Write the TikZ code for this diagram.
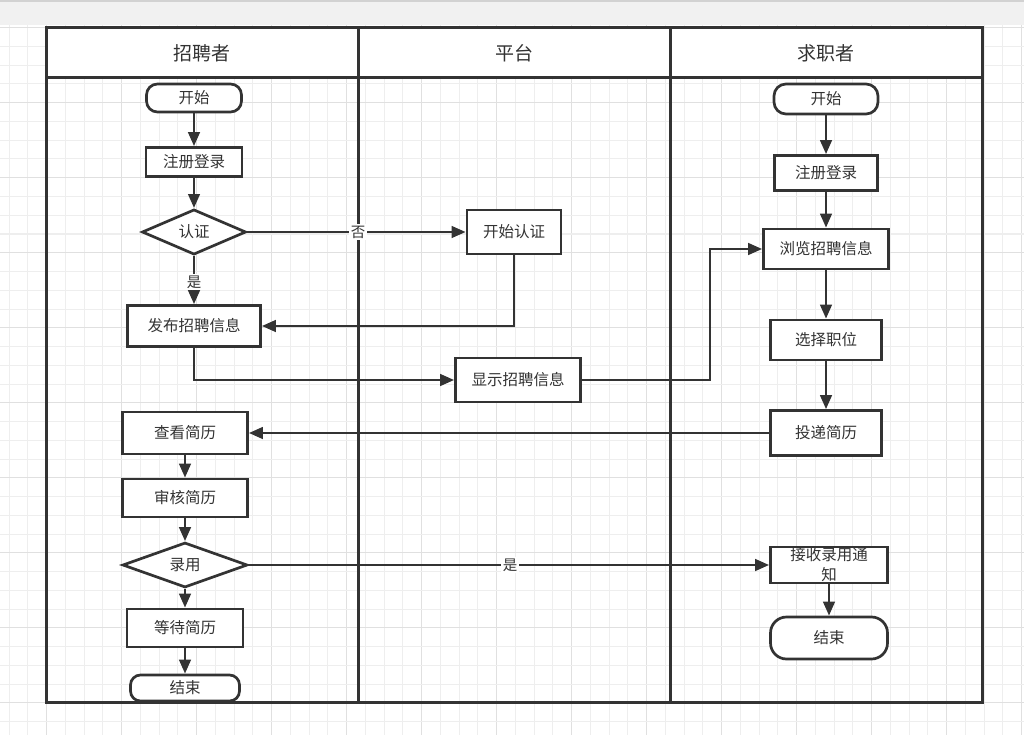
\documentclass[tikz,border=0pt]{standalone}
\usepackage{fontspec}
\setmainfont{Noto Sans CJK SC}
\usetikzlibrary{shapes.geometric,arrows.meta}
\definecolor{ink}{HTML}{333333}
\definecolor{gridminor}{HTML}{EEEEEE}
\definecolor{gridmajor}{HTML}{E0E0E0}
\definecolor{topbar}{HTML}{F1F1F1}
\definecolor{topline}{HTML}{D2D2D2}
\tikzset{
  every node/.style={text=ink},
  boxnode/.style={draw=ink, line width=2.7pt, fill=white, inner sep=0pt,
    font=\fontsize{15.5pt}{20pt}\selectfont},
  procbox/.style={boxnode, rectangle},
  termbox/.style={boxnode, rectangle, rounded corners=#1},
  decbox/.style={boxnode, diamond},
  lanehead/.style={font=\fontsize{19pt}{22pt}\selectfont},
  flow/.style={draw=ink, line width=2.7pt, -{Triangle[length=14pt,width=11.5pt]}},
  flowlabel/.style={fill=white, inner sep=1.5pt, font=\fontsize{14.5pt}{16pt}\selectfont},
  laneline/.style={draw=ink, line width=3pt},
}
\begin{document}
\begin{tikzpicture}[x=1pt,y=-1pt]
\useasboundingbox (0,0) rectangle (1024,735);
\fill[white] (0,0) rectangle (1024,735);
% grid
\foreach \k in {0,...,54}{
  \pgfmathsetmacro{\gx}{9.2+18.75*\k}
  \pgfmathtruncatemacro{\m}{mod(\k,4)}
  \ifnum\m=2
    \draw[gridmajor, line width=1pt] (\gx,0) -- (\gx,735);
  \else
    \draw[gridminor, line width=1pt] (\gx,0) -- (\gx,735);
  \fi
}
\foreach \k in {0,...,39}{
  \pgfmathsetmacro{\gy}{9+18.75*\k}
  \pgfmathtruncatemacro{\m}{mod(\k,4)}
  \ifnum\m=1
    \draw[gridmajor, line width=1pt] (0,\gy) -- (1024,\gy);
  \else
    \draw[gridminor, line width=1pt] (0,\gy) -- (1024,\gy);
  \fi
}
% top bar
\fill[topbar] (0,0) rectangle (1024,25);
\fill[topline] (0,0) rectangle (1024,2);
% pool
\fill[white] (46,28) rectangle (982,78);
\draw[laneline] (46,28) rectangle (982,702);
\draw[laneline] (46,78) -- (982,78);
\draw[laneline] (358,28) -- (358,702);
\draw[laneline] (670,28) -- (670,702);
\node[lanehead] (h1) at (202,53) {招聘者};
\node[lanehead] (h2) at (514,53) {平台};
\node[lanehead] (h3) at (826,53) {求职者};
% recruiter lane
\node[termbox=11pt, minimum width=95pt, minimum height=28pt] (rs) at (194,98) {开始};
\node[procbox, minimum width=96pt, minimum height=29pt] (rr) at (194,162) {注册登录};
\node[decbox, minimum width=104pt, minimum height=44pt] (rv) at (194,232) {认证};
\node[procbox, minimum width=133pt, minimum height=41pt] (rp) at (194,326) {发布招聘信息};
\node[procbox, minimum width=125pt, minimum height=42pt] (rc) at (185,433) {查看简历};
\node[procbox, minimum width=125pt, minimum height=38pt] (ra) at (185,498) {审核简历};
\node[decbox, minimum width=125pt, minimum height=45pt] (rh) at (185,565) {录用};
\node[procbox, minimum width=116pt, minimum height=38pt] (rw) at (185,628) {等待简历};
\node[termbox=10pt, minimum width=109pt, minimum height=26pt] (re) at (185,688) {结束};
% platform lane
\node[procbox, minimum width=94pt, minimum height=44pt] (pv) at (514,232) {开始认证};
\node[procbox, minimum width=125pt, minimum height=44pt] (pd) at (518,380) {显示招聘信息};
% seeker lane
\node[termbox=12pt, minimum width=104pt, minimum height=30pt] (ss) at (826,99) {开始};
\node[procbox, minimum width=103pt, minimum height=35pt] (sr) at (826,173) {注册登录};
\node[procbox, minimum width=125pt, minimum height=40pt] (sb) at (826,249) {浏览招聘信息};
\node[procbox, minimum width=111pt, minimum height=40pt] (sj) at (826,340) {选择职位};
\node[procbox, minimum width=111pt, minimum height=45pt] (st) at (826,433) {投递简历};
\node[procbox, minimum width=117pt, minimum height=36pt, align=center] (sn) at (829,565) {接收录用通\\知};
\node[termbox=16pt, minimum width=117pt, minimum height=42pt] (se) at (829,638) {结束};
\coordinate (turn) at (710,0);
% connectors
\draw[flow] (rs) -- (rr);
\draw[flow] (rr) -- (rv);
\draw[flow] (rv.south) -- node[flowlabel, pos=0.54] {是} (rp.north);
\draw[flow] (rv.east) -- node[flowlabel, pos=0.507] {否} (pv.west);
\draw[flow] (pv.south) |- (rp.east);
\draw[flow] (rp.south) |- (pd.west);
\draw[flow] (pd.east) -- (pd.east -| turn) |- (sb.west);
\draw[flow] (ss) -- (sr);
\draw[flow] (sr) -- (sb);
\draw[flow] (sb) -- (sj);
\draw[flow] (sj) -- (st);
\draw[flow] (st.west) -- (rc.east);
\draw[flow] (rc) -- (ra);
\draw[flow] (ra) -- (rh);
\draw[flow] (rh) -- (rw);
\draw[flow] (rw) -- (re);
\draw[flow] (rh.east) -- node[flowlabel, pos=0.502] {是} (sn.west);
\draw[flow] (sn) -- (se);
\end{tikzpicture}
\end{document}
